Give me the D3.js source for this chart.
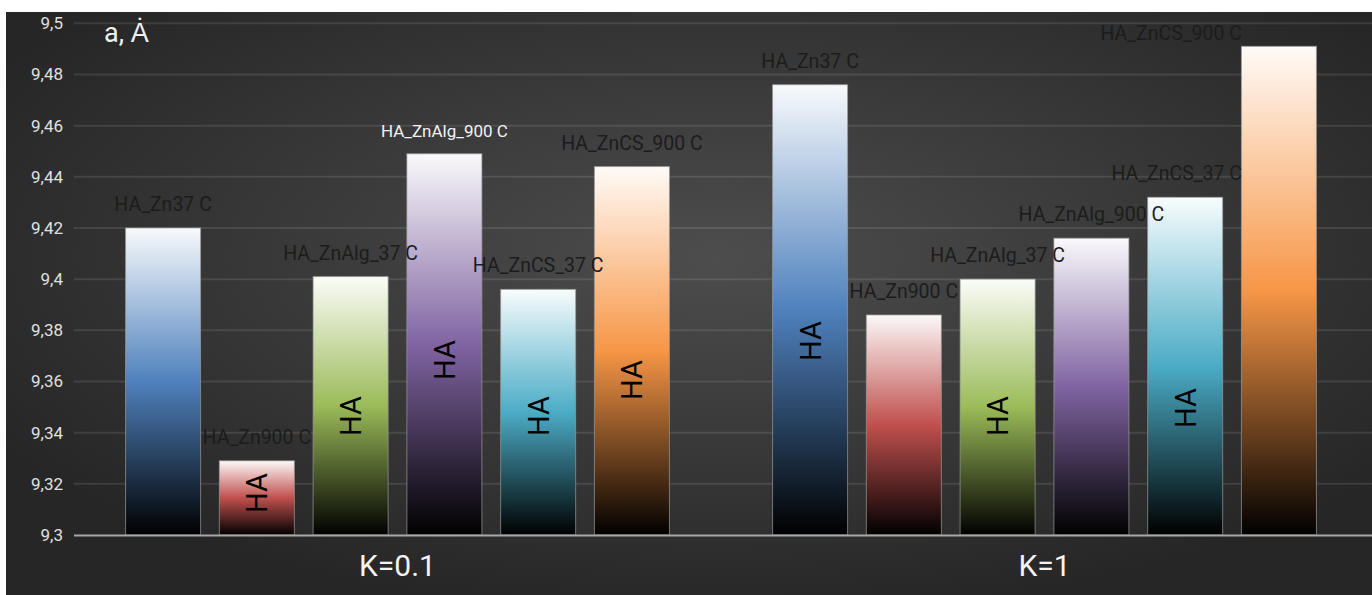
<!DOCTYPE html>
<html><head><meta charset="utf-8">
<script src="https://cdn.jsdelivr.net/npm/d3@7"></script>
<style>html,body{margin:0;padding:0;background:#fff;}svg{display:block;}</style>
</head><body>
<svg id="c" width="1372" height="595"></svg>
<script>
const groups = ["K=0.1", "K=1"];
const seriesNames = ["HA_Zn37 C", "HA_Zn900 C", "HA_ZnAlg_37 C", "HA_ZnAlg_900 C", "HA_ZnCS_37 C", "HA_ZnCS_900 C"];
const valuesK01 = [9.420, 9.329, 9.401, 9.449, 9.396, 9.444];
const valuesK1  = [9.476, 9.386, 9.400, 9.416, 9.432, 9.491];
const haK01 = [null, 9.3164, 9.3465, 9.3684, 9.3465, 9.3606];
const haK1  = [9.3758, null, 9.3465, null, 9.3496, null];
const yTicks = [9.3, 9.32, 9.34, 9.36, 9.38, 9.4, 9.42, 9.44, 9.46, 9.48, 9.5];
const yTitle = "a, Ȧ";
const innerText = "HA";

const colors = ["#4f81bd", "#c0504d", "#9bbb59", "#8064a2", "#4bacc6", "#f79646"];
const W = 1372, H = 595;
const svg = d3.select("#c");
const defs = svg.append("defs");

const bg = defs.append("radialGradient").attr("id", "bg").attr("cx", "52%").attr("cy", "42%").attr("r", "62%");
bg.append("stop").attr("offset", "0%").attr("stop-color", "#4d4d4d");
bg.append("stop").attr("offset", "100%").attr("stop-color", "#262626");

colors.forEach((c, i) => {
  const g = defs.append("linearGradient").attr("id", "bar" + i).attr("x1", 0).attr("y1", 0).attr("x2", 0).attr("y2", 1);
  g.append("stop").attr("offset", "0%").attr("stop-color", d3.interpolateRgb("#ffffff", c)(0.04));
  g.append("stop").attr("offset", "50%").attr("stop-color", c);
  g.append("stop").attr("offset", "100%").attr("stop-color", "#000000");
});

svg.append("rect").attr("x", 6).attr("y", 12).attr("width", W - 6).attr("height", H - 12).attr("fill", "url(#bg)");

const plotL = 74, plotR = 1368, plotB = 535, plotT = 23.3;
const y = d3.scaleLinear().domain([9.3, 9.5]).range([plotB, plotT]);
const x0 = d3.scaleBand().domain(groups).range([plotL, plotR]).padding(0);
const x1 = d3.scaleBand().domain(seriesNames).range([0, x0.bandwidth()]).paddingInner(0.2).paddingOuter(0.55);

// gridlines
svg.append("g").selectAll("line").data(yTicks.slice(1)).join("line")
  .attr("x1", plotL).attr("x2", W).attr("y1", d => y(d)).attr("y2", d => y(d))
  .attr("stroke", "#ffffff").attr("stroke-opacity", 0.1).attr("stroke-width", 2);

// y axis labels
const yAxis = d3.axisLeft(y).tickValues(yTicks).tickSize(0).tickPadding(0)
  .tickFormat(d => d3.format("")(+d.toFixed(2)).replace(".", ","));
const ya = svg.append("g").attr("transform", `translate(63,0)`).call(yAxis);
ya.select(".domain").remove();
ya.selectAll("text").attr("fill", "#e0e0e0").attr("font-family", "Roboto, sans-serif").attr("font-size", 17).attr("text-anchor", "end");

const rows = [];
groups.forEach((g, gi) => {
  const vals = gi === 0 ? valuesK01 : valuesK1;
  const has = gi === 0 ? haK01 : haK1;
  seriesNames.forEach((s, si) => rows.push({ g, gi, s, si, v: vals[si], ha: has[si] }));
});

const bars = svg.append("g");
bars.selectAll("rect").data(rows).join("rect")
  .attr("x", d => x0(d.g) + x1(d.s))
  .attr("y", d => y(d.v))
  .attr("width", x1.bandwidth())
  .attr("height", d => y(9.3) - y(d.v))
  .attr("fill", d => "url(#bar" + d.si + ")")
  .attr("stroke", "#9a9a9a").attr("stroke-width", 1).attr("stroke-opacity", 0.7);

// x axis line
svg.append("line").attr("x1", plotL).attr("x2", W).attr("y1", plotB + 0.5).attr("y2", plotB + 0.5)
  .attr("stroke", "#a8a8a8").attr("stroke-width", 2);

// inner HA labels
svg.append("g").selectAll("text").data(rows.filter(d => d.ha !== null)).join("text")
  .attr("transform", d => `translate(${x0(d.g) + x1(d.s) + x1.bandwidth() / 2},${y(d.ha)}) rotate(-90)`)
  .attr("text-anchor", "middle").attr("dy", "0.36em")
  .attr("font-family", "Roboto, sans-serif").attr("font-size", 29).attr("fill", "#000")
  .text(innerText);

// bar labels
svg.append("g").selectAll("text").data(rows).join("text")
  .attr("x", d => x0(d.g) + x1(d.s) + x1.bandwidth() / 2)
  .attr("y", d => y(d.v) - 17)
  .attr("text-anchor", "middle")
  .attr("font-family", "Roboto, sans-serif")
  .attr("font-size", d => (d.gi === 0 && d.si === 3) ? 17 : 19.5)
  .attr("fill", d => (d.gi === 0 && d.si === 3) ? "#f2f2f2" : "#1c1c1c")
  .text(d => d.s)
  .each(function () {
    const bb = this.getBBox();
    const maxR = 1242, minT = 22;
    const sel = d3.select(this);
    if (bb.x + bb.width > maxR) sel.attr("x", +sel.attr("x") - (bb.x + bb.width - maxR));
    if (bb.y < minT) sel.attr("y", +sel.attr("y") + (minT - bb.y));
  });

// group labels
svg.append("g").selectAll("text").data(groups).join("text")
  .attr("x", d => x0(d) + x0.bandwidth() / 2)
  .attr("y", 576)
  .attr("text-anchor", "middle")
  .attr("font-family", "Roboto, sans-serif").attr("font-size", 30).attr("fill", "#f4f4f4")
  .text(d => d);

// y title
svg.append("text").attr("x", 104).attr("y", 42)
  .attr("font-family", "Roboto, sans-serif").attr("font-size", 27).attr("fill", "#f0f0f0")
  .text(yTitle);
</script>
</body></html>
